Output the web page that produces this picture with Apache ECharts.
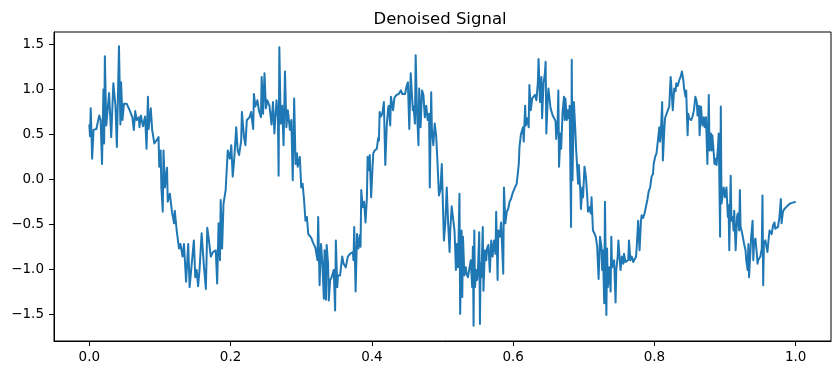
<!DOCTYPE html>
<html>
<head>
<meta charset="utf-8">
<script src="https://cdn.jsdelivr.net/npm/echarts@6/dist/echarts.min.js"></script>
<style>
html,body{margin:0;padding:0;background:#fff;}
#chart{width:838px;height:374px;}
</style>
</head>
<body>
<div id="chart"></div>
<script>
const chartTitle = "Denoised Signal";
const xTicks = [0.0, 0.2, 0.4, 0.6, 0.8, 1.0];
const yTicks = [-1.5, -1.0, -0.5, 0.0, 0.5, 1.0, 1.5];

const times = [
0.000,0.001,0.002,0.004,0.006,0.010,0.014,0.016,0.018,0.020,0.021,0.022,0.024,0.028,0.031,0.034,0.037,0.039,0.042,0.044,
0.045,0.047,0.049,0.053,0.057,0.061,0.063,0.065,0.067,0.070,0.071,0.073,0.076,0.079,0.081,0.083,0.084,0.087,0.089,0.092,
0.095,0.098,0.099,0.101,0.102,0.104,0.105,0.107,0.110,0.111,0.114,0.117,0.120,0.121,0.124,0.127,0.129,0.132,0.134,0.137,
0.140,0.142,0.145,0.148,0.150,0.152,0.154,0.156,0.159,0.162,
0.165,0.167,0.169,0.172,0.175,0.179,0.181,0.183,0.185,0.186,0.188,0.190,0.193,0.196,0.199,0.201,0.203,0.205,0.208,0.210,
0.212,0.215,0.216,0.219,0.221,0.223,0.227,0.229,0.232,0.233,0.235,0.238,0.240,0.243,0.244,0.246,0.248,0.250,0.252,0.255,
0.258,0.260,0.262,0.265,0.267,0.268,0.269,0.271,0.273,0.275,0.277,0.279,0.281,0.284,0.286,0.288,0.290,0.292,0.294,0.295,
0.298,0.300,0.302,0.304,0.306,0.308,0.310,0.314,0.317,0.320,0.323,0.324,0.326,0.328,0.330,0.332,
0.333,0.335,0.336,0.338,0.339,0.341,0.343,0.346,0.348,0.349,0.351,0.352,0.355,0.358,0.360,0.363,0.366,0.369,0.373,0.374,
0.375,0.377,0.379,0.381,0.383,0.384,0.385,0.387,0.389,0.391,0.393,0.394,0.396,0.397,0.399,0.401,0.402,0.404,0.407,0.409,
0.410,0.411,0.413,0.415,0.417,0.419,0.421,0.423,0.424,0.426,0.427,0.430,0.432,0.435,0.438,0.441,0.443,0.447,0.449,0.451,
0.453,0.455,0.458,0.459,0.461,0.462,0.464,0.466,0.467,0.469,0.471,0.473,0.475,0.477,0.479,0.481,0.482,0.484,0.485,0.487,
0.489,0.491,0.493,0.495,0.497,0.499,0.501,0.502,
0.504,0.506,0.508,0.510,0.511,0.513,0.515,0.517,0.519,0.520,0.522,0.524,0.525,0.527,0.528,0.529,0.531,0.533,0.534,0.536,
0.538,0.540,0.542,0.543,0.544,0.545,0.546,0.548,0.549,0.550,0.552,0.553,0.554,0.555,0.557,0.558,0.560,0.562,0.563,0.565,
0.567,0.569,0.571,0.573,0.575,0.576,0.578,0.579,0.581,0.583,0.585,0.586,0.587,0.589,0.591,0.593,0.595,0.597,0.599,0.602,
0.605,0.608,0.609,0.611,0.614,0.615,0.617,0.618,0.620,0.622,0.623,0.625,0.627,0.629,0.631,0.633,0.635,0.636,0.638,0.640,
0.641,0.643,0.645,0.646,0.647,0.649,0.650,0.653,0.656,0.658,0.660,0.661,0.663,0.664,0.665,0.667,0.668,0.670,0.672,
0.673,0.674,0.676,0.677,0.679,0.680,0.682,0.683,0.684,0.686,0.688,0.689,0.690,0.692,0.693,0.695,0.696,0.698,0.699,0.701,
0.703,0.705,0.706,0.708,0.710,0.711,0.713,0.715,0.717,0.719,0.721,0.723,0.725,0.726,0.727,0.729,0.730,0.732,0.733,0.734,
0.736,0.738,0.739,0.740,0.742,0.743,0.745,0.746,0.748,0.749,0.750,0.752,0.754,0.756,0.757,0.759,0.761,0.763,0.764,0.766,
0.768,0.770,0.772,0.774,0.775,0.777,0.779,0.781,0.782,0.784,0.786,0.788,0.790,0.792,0.794,0.796,0.798,0.799,0.801,0.803,
0.805,0.807,0.808,0.809,0.811,0.812,0.814,0.815,0.817,0.819,0.821,0.823,0.824,0.826,0.828,0.830,0.831,0.833,0.835,0.837,
0.839,0.841,
0.842,0.844,0.845,0.846,0.847,0.848,0.849,0.852,0.854,0.856,0.858,0.860,0.861,0.863,0.864,0.866,0.867,0.868,0.870,0.871,
0.873,0.874,0.875,0.877,0.878,0.880,0.881,0.882,0.884,0.885,0.887,0.888,0.890,0.891,0.892,0.893,0.894,0.895,0.897,0.898,
0.900,0.902,0.904,0.905,0.906,0.908,0.909,0.911,0.912,0.913,0.915,0.917,0.918,0.920,0.921,0.922,0.924,0.925,0.927,0.929,
0.930,0.932,0.933,0.934,0.936,0.937,0.939,0.940,0.941,0.943,0.945,0.946,0.947,0.949,0.950,0.952,0.953,0.954,0.955,0.957,
0.959,0.960,0.961,0.963,0.965,0.966,0.968,0.970,0.971,0.973,0.975,0.977,0.979,0.980,0.982,0.984,0.986,0.989,0.992,0.996,
1.000
];

const values = [
0.61,0.48,0.79,0.23,0.55,0.56,0.71,0.66,0.17,1.00,0.40,1.37,0.60,0.96,0.47,1.07,0.82,0.36,1.48,0.61,
1.08,0.66,0.84,0.84,0.77,0.69,0.55,0.76,0.66,0.69,0.58,0.71,0.59,0.70,0.34,0.92,0.56,0.79,0.55,0.40,
0.43,0.47,0.14,0.32,-0.09,-0.36,0.32,-0.09,0.13,-0.25,-0.16,-0.36,-0.49,-0.35,-0.59,-0.77,-0.72,-0.86,-0.72,-1.14,
-0.72,-1.20,-0.94,-0.68,-1.09,-1.01,-1.19,-1.01,-0.60,-0.94,
-1.22,-0.54,-0.66,-0.86,-0.81,-0.79,-1.16,-0.49,-0.90,-0.23,-0.77,-0.27,-0.12,0.32,0.23,0.38,0.03,0.21,0.58,0.32,
0.27,0.43,0.75,0.47,0.38,0.66,0.69,0.75,0.56,0.95,0.81,0.88,0.77,0.69,1.14,0.73,1.18,0.79,0.88,0.82,
0.61,0.86,0.51,0.88,0.68,0.04,1.47,0.62,0.82,0.38,1.20,0.58,0.77,0.55,0.66,-0.01,0.90,0.17,0.29,0.14,
0.25,-0.09,-0.05,-0.23,-0.46,-0.42,-0.61,-0.65,-0.71,-0.76,-0.90,-0.42,-1.18,-0.72,-0.94,-1.33,
-0.79,-1.34,-0.73,-0.94,-1.35,-1.12,-1.09,-1.01,-1.46,-0.68,-1.20,-1.07,-1.07,-0.86,-0.94,-0.98,-0.86,-0.83,-0.81,-0.90,
-0.53,-1.25,-0.61,-0.77,-0.62,-0.75,-0.12,-0.31,-0.25,-0.48,-0.20,0.25,0.10,0.27,-0.20,0.14,0.29,0.32,0.34,0.46,
0.43,0.75,0.70,0.74,0.86,0.16,0.58,0.79,0.82,0.60,0.92,0.77,0.91,0.94,0.95,0.99,0.95,0.95,1.03,1.08,
0.56,1.18,0.77,0.81,0.62,1.38,0.73,0.38,1.01,0.58,0.99,0.94,0.69,0.82,0.66,0.73,-0.09,0.97,0.55,0.38,
0.62,0.49,0.17,-0.18,-0.12,0.17,0.17,-0.68,
-0.49,-0.09,-0.49,-0.81,-0.57,-0.30,-0.29,-0.57,-1.01,-0.72,-0.98,-0.16,-1.50,-0.57,-1.31,-0.64,-1.07,-0.98,-1.05,-1.09,
-1.11,-0.90,-1.20,-0.75,-1.63,-0.57,-1.20,-1.01,-1.12,-1.05,-0.59,-1.61,-0.94,-1.09,-0.53,-1.24,-0.79,-0.90,-0.77,-0.73,
-1.03,-0.68,-0.86,-0.68,-0.83,-0.36,-1.12,-0.57,-0.64,-0.48,-0.49,-1.05,-0.09,-0.49,-0.36,-0.33,-0.25,-0.22,-0.16,-0.10,
-0.05,0.17,0.36,0.50,0.58,0.42,0.82,0.60,0.68,0.58,1.05,0.77,0.90,0.92,0.94,0.88,1.08,1.34,0.86,1.14,
0.68,1.07,1.18,1.31,0.51,0.90,1.01,0.79,0.71,0.69,0.65,0.45,0.64,0.99,0.14,0.51,0.34,0.75,0.92,
0.66,0.90,0.66,0.77,0.68,0.82,-0.53,1.33,-0.01,0.86,0.55,0.36,0.36,-0.05,0.16,-0.12,-0.33,-0.09,-0.20,0.14,
0.03,-0.20,-0.36,-0.31,-0.38,-0.20,-0.57,-0.60,-0.64,-0.75,-1.11,-0.64,-0.75,-1.01,-0.79,-1.38,-0.25,-1.51,-0.77,-1.20,
-0.98,-1.25,-0.64,-0.98,-0.94,-0.90,-1.37,-1.01,-0.86,-0.68,-0.79,-1.01,-0.86,-0.94,-0.83,-0.92,-0.94,-0.90,-0.68,-0.90,
-0.86,-0.92,-0.90,-0.86,-0.75,-0.46,-0.79,-0.46,-0.40,-0.43,-0.38,-0.36,-0.23,-0.13,-0.09,0.03,0.06,0.17,0.25,0.29,
0.30,0.58,0.42,0.51,0.86,0.21,0.55,0.68,0.69,0.77,0.81,1.14,1.03,0.77,1.01,0.98,1.07,1.04,1.10,1.14,
1.20,1.10,
1.01,0.92,0.99,0.73,0.49,0.73,0.68,0.66,0.70,0.77,0.92,0.86,0.71,0.82,0.49,0.81,0.69,0.60,0.69,0.58,
0.69,0.69,0.17,0.94,0.32,0.51,0.32,0.49,0.29,0.17,0.23,0.16,0.36,0.51,-0.03,-0.64,0.81,-0.27,-0.16,-0.09,
-0.20,-0.09,-0.42,-0.29,-0.79,0.04,-0.46,-0.42,-0.57,-0.35,-0.79,-0.42,-0.38,-0.57,-0.12,-0.53,-0.59,-0.57,-0.72,-0.79,
-0.90,-1.01,-0.72,-1.09,-0.79,-0.64,-0.46,-0.90,-0.72,-0.66,-0.83,-0.94,-0.90,-0.90,-0.86,-0.77,-0.18,-1.18,-0.72,-0.68,
-0.68,-0.81,-0.72,-0.57,-0.59,-0.61,-0.51,-0.48,-0.55,-0.57,-0.53,-0.42,-0.22,-0.49,-0.36,-0.33,-0.31,-0.29,-0.27,-0.26,
-0.25
];

const seriesData = times.map((t, i) => [t, values[i]]);
const fmt = v => (v < 0 ? '\u2212' : '') + Math.abs(v).toFixed(1);
const font = 'DejaVu Sans';

const chart = echarts.init(document.getElementById('chart'), null, {renderer: 'canvas'});
chart.setOption({
  animation: false,
  backgroundColor: '#fff',
  title: {
    text: chartTitle,
    left: 435, top: 6, textAlign: 'center',
    textStyle: {fontFamily: font, fontSize: 16.5, fontWeight: 'normal', color: '#000'}
  },
  grid: {
    left: 54, right: 7, top: 32, bottom: 33,
    show: true, borderColor: '#000', borderWidth: 1, backgroundColor: 'transparent'
  },
  xAxis: {
    type: 'value', min: -0.05, max: 1.05,
    axisLine: {show: true, onZero: false, lineStyle: {color: '#000', width: 1}},
    axisTick: {show: true, length: 5, customValues: xTicks, lineStyle: {color: '#000'}},
    axisLabel: {customValues: xTicks, formatter: fmt, margin: 9, color: '#000', fontFamily: font, fontSize: 13.5},
    splitLine: {show: false}
  },
  yAxis: {
    type: 'value', min: -1.80, max: 1.64,
    axisLine: {show: true, onZero: false, lineStyle: {color: '#000', width: 1}},
    axisTick: {show: true, length: 5, customValues: yTicks, lineStyle: {color: '#000'}},
    axisLabel: {customValues: yTicks, formatter: fmt, margin: 10, color: '#000', fontFamily: font, fontSize: 13.5},
    splitLine: {show: false}
  },
  series: [{
    type: 'line',
    data: seriesData,
    showSymbol: false,
    lineStyle: {color: '#1f77b4', width: 2, join: 'round'},
    itemStyle: {color: '#1f77b4'}
  }]
});
</script>
</body>
</html>
